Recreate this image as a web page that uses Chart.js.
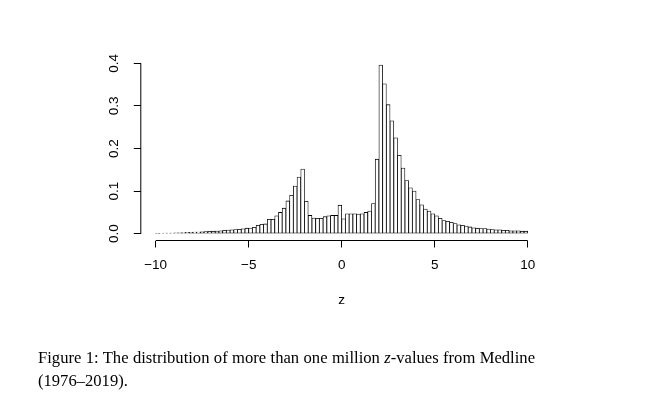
<!DOCTYPE html>
<html>
<head>
<meta charset="utf-8">
<script src="https://cdn.jsdelivr.net/npm/chart.js@4/dist/chart.umd.min.js"></script>
<style>
  body { margin: 0; background: #fff; }
  #wrap { position: relative; width: 655px; height: 404px; }
  #caption {
    position: absolute; left: 38px; top: 346px; width: 497px;
    font-family: "Liberation Serif", "DejaVu Serif", serif;
    font-size: 16.6px; line-height: 23px; text-align: justify; color: #000;
  }
  #caption span { white-space: nowrap; }
</style>
</head>
<body>
<div id="wrap">
  <canvas id="hist"></canvas>
  <div id="caption">Figure 1: The distribution of more than one million <i>z</i>-values from Medline <span>(1976&ndash;2019).</span></div>
</div>
<script>
// histogram: 100 bins of width 0.2 from -10 to 10
const binFrom = -10;
const binWidth = 0.2;
const density = [
  0.001, 0.0012, 0.0014, 0.0016, 0.0018, 0.002, 0.0023, 0.0026, 0.003, 0.0033,
  0.0037, 0.004, 0.0045, 0.005, 0.0055, 0.006, 0.0065, 0.007, 0.0078, 0.0085,
  0.009, 0.0098, 0.0105, 0.0115, 0.013, 0.0135, 0.015, 0.02, 0.022, 0.023,
  0.034, 0.034, 0.042, 0.05, 0.06, 0.077, 0.09, 0.112, 0.133, 0.152,
  0.076, 0.043, 0.037, 0.036, 0.036, 0.04, 0.042, 0.043, 0.043, 0.067,
  0.035, 0.047, 0.047, 0.047, 0.046, 0.047, 0.05, 0.053, 0.071, 0.175,
  0.396, 0.352, 0.303, 0.265, 0.225, 0.184, 0.154, 0.125, 0.108, 0.1,
  0.08, 0.068, 0.058, 0.053, 0.047, 0.042, 0.036, 0.031, 0.029, 0.027,
  0.024, 0.021, 0.02, 0.018, 0.016, 0.014, 0.013, 0.012, 0.012, 0.011,
  0.01, 0.009, 0.009, 0.008, 0.008, 0.007, 0.007, 0.007, 0.006, 0.006
];
const xTicks = [-10, -5, 0, 5, 10];
const yTicks = [0, 0.1, 0.2, 0.3, 0.4];
const yTickLabels = ['0.0', '0.1', '0.2', '0.3', '0.4'];

const points = density.map((d, i) => ({ x: binFrom + binWidth * (i + 0.5), y: d }));
const tickFont = { family: 'Liberation Sans, Arial, sans-serif', size: 13.5 };

// R style axis lines: only from first to last tick
const axisLines = {
  id: 'axisLines',
  afterDraw(chart) {
    const { ctx, chartArea, scales } = chart;
    ctx.save();
    ctx.strokeStyle = '#000';
    ctx.lineWidth = 1;
    ctx.beginPath();
    ctx.moveTo(scales.x.getPixelForValue(xTicks[0]), chartArea.bottom);
    ctx.lineTo(scales.x.getPixelForValue(xTicks[xTicks.length - 1]), chartArea.bottom);
    ctx.moveTo(chartArea.left, scales.y.getPixelForValue(yTicks[0]));
    ctx.lineTo(chartArea.left, scales.y.getPixelForValue(yTicks[yTicks.length - 1]));
    ctx.stroke();
    ctx.restore();
  }
};

new Chart(document.getElementById('hist'), {
  type: 'bar',
  data: {
    datasets: [{
      data: points,
      backgroundColor: '#fff',
      borderColor: '#000',
      borderWidth: 0.8,
      borderSkipped: false,
      barPercentage: 1,
      categoryPercentage: 1
    }]
  },
  options: {
    responsive: true,
    maintainAspectRatio: false,
    animation: false,
    layout: { padding: { left: 100.8, right: 112.4, top: 57.8, bottom: 95.5 } },
    plugins: { legend: { display: false }, tooltip: { enabled: false } },
    scales: {
      x: {
        type: 'linear',
        min: -10.8,
        max: 10.8,
        offset: false,
        afterBuildTicks: s => { s.ticks = xTicks.map(v => ({ value: v })); },
        afterFit: s => { s.height = 68; },
        border: { display: false },
        grid: { offset: false, drawOnChartArea: false, drawTicks: true, tickLength: 7, color: '#000' },
        ticks: {
          color: '#000', font: tickFont, padding: 10, maxRotation: 0,
          callback: v => String(v).replace('-', '\u2212')
        },
        title: { display: true, text: 'z', color: '#000', font: tickFont, padding: { top: 10, bottom: 0 } }
      },
      y: {
        min: -0.0159,
        max: 0.413,
        afterBuildTicks: s => { s.ticks = yTicks.map(v => ({ value: v })); },
        afterFit: s => { s.width = 40; },
        border: { display: false },
        grid: { drawOnChartArea: false, drawTicks: true, tickLength: 7, color: '#000' },
        ticks: {
          color: '#000', font: tickFont, padding: 10, minRotation: 90, maxRotation: 90,
          crossAlign: 'center',
          callback: (v, i) => yTickLabels[i]
        }
      }
    }
  },
  plugins: [axisLines]
});
</script>
</body>
</html>
